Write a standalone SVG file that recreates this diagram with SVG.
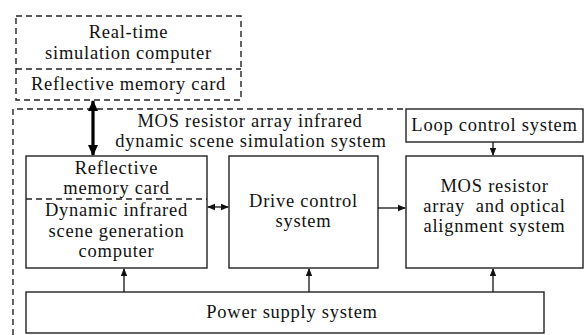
<svg xmlns="http://www.w3.org/2000/svg" width="587" height="335" viewBox="0 0 587 335">
<style>
.box{fill:#fff;stroke:#222;stroke-width:1.4}
.dash{fill:none;stroke:#222;stroke-width:1.4;stroke-dasharray:6,4}
.t{font-family:"Liberation Serif","Times New Roman",serif;font-size:18.5px;fill:#111;text-anchor:middle;letter-spacing:0.75px}
.c{stroke:#111;stroke-width:1.3;fill:none}
.thick{stroke:#000;stroke-width:3.2;fill:none}
</style>
<defs>
<marker id="ah" markerWidth="8" markerHeight="8" refX="7" refY="4" orient="auto-start-reverse" markerUnits="userSpaceOnUse">
<path d="M0,0.8 L8,4 L0,7.2 Z" fill="#111"/>
</marker>
<marker id="ahb" markerWidth="12" markerHeight="12" refX="10" refY="6" orient="auto-start-reverse" markerUnits="userSpaceOnUse">
<path d="M0,1 L11,6 L0,11 Z" fill="#000"/>
</marker>
</defs>
<rect width="587" height="335" fill="#fff"/>
<g id="realtime">
<rect class="dash" x="16" y="16" width="225" height="84"/>
<line class="dash" x1="16" y1="69" x2="241" y2="69"/>
<text class="t" x="128.5" y="38">Real-time</text>
<text class="t" x="128.5" y="59">simulation computer</text>
<text class="t" x="128.5" y="90">Reflective memory card</text>
</g>
<g id="system">
<path class="dash" d="M13,335 V109 H406"/>
<text class="t" x="250" y="127">MOS resistor array infrared</text>
<text class="t" x="251" y="147">dynamic scene simulation system</text>
</g>
<g id="loop">
<rect class="box" x="406" y="109" width="177" height="33"/>
<text class="t" x="494.5" y="131">Loop control system</text>
</g>
<g id="dyn">
<rect class="box" x="26" y="156" width="181" height="112"/>
<line class="dash" x1="26" y1="199" x2="207" y2="199"/>
<text class="t" x="116.5" y="174">Reflective</text>
<text class="t" x="116.5" y="194">memory card</text>
<text class="t" x="116.5" y="216">Dynamic infrared</text>
<text class="t" x="116.5" y="237">scene generation</text>
<text class="t" x="116.5" y="257">computer</text>
</g>
<g id="drive">
<rect class="box" x="229" y="156" width="149" height="112"/>
<text class="t" x="303.5" y="207">Drive control</text>
<text class="t" x="303.5" y="227">system</text>
</g>
<g id="mos">
<rect class="box" x="406" y="156" width="177" height="112"/>
<text class="t" x="494.5" y="192">MOS resistor</text>
<text class="t" x="494.5" y="212" xml:space="preserve">array  and optical</text>
<text class="t" x="494.5" y="232">alignment system</text>
</g>
<g id="power">
<rect class="box" x="26" y="292" width="518" height="41"/>
<text class="t" x="292" y="318">Power supply system</text>
</g>
<g id="connectors">
<line class="thick" x1="93" y1="101" x2="93" y2="155" marker-start="url(#ahb)" marker-end="url(#ahb)"/>
<line class="c" x1="208" y1="207" x2="228" y2="207" marker-start="url(#ah)" marker-end="url(#ah)"/>
<line class="c" x1="378" y1="208" x2="405" y2="208" marker-end="url(#ah)"/>
<line class="c" x1="493" y1="142" x2="493" y2="155" marker-end="url(#ah)"/>
<line class="c" x1="124" y1="292" x2="124" y2="269" marker-end="url(#ah)"/>
<line class="c" x1="309" y1="292" x2="309" y2="269" marker-end="url(#ah)"/>
<line class="c" x1="493" y1="292" x2="493" y2="269" marker-end="url(#ah)"/>
</g>
</svg>
